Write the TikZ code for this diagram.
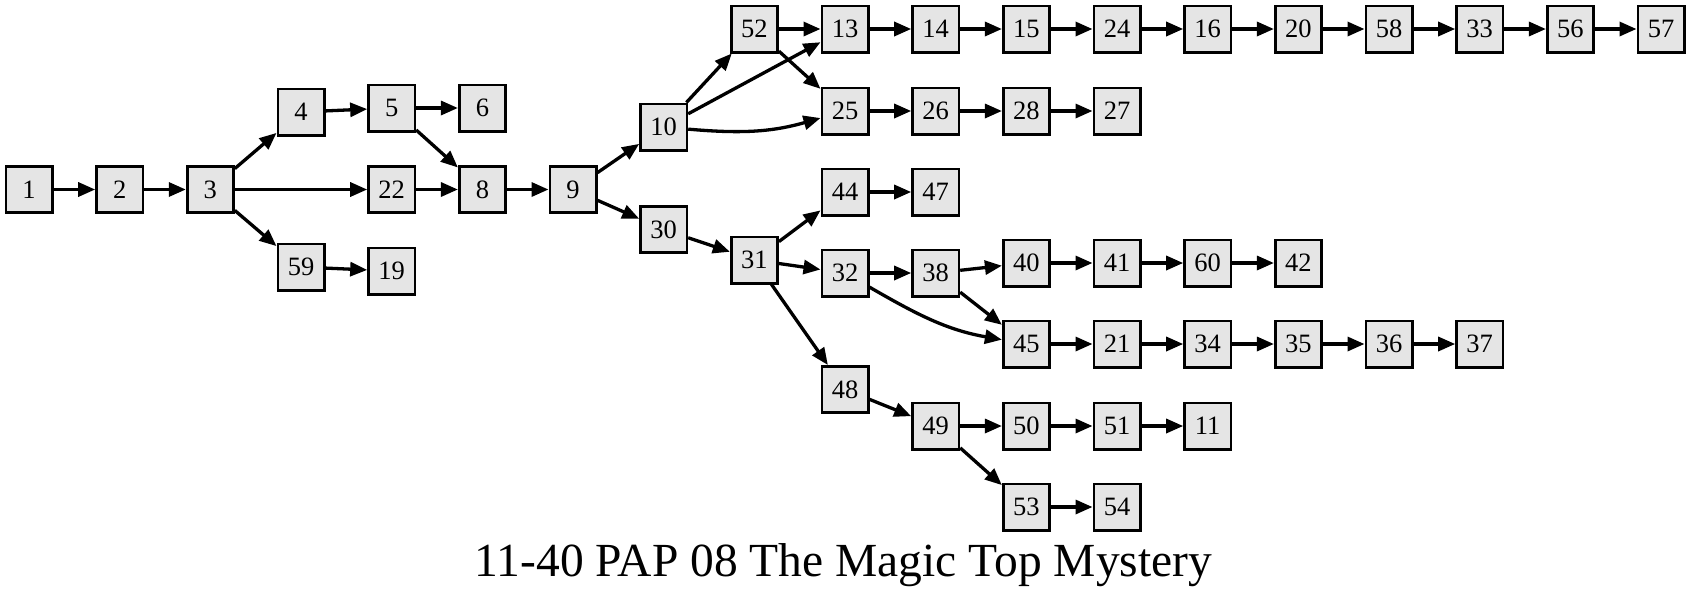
\documentclass[tikz,border=0pt]{standalone}
\usepackage{fontspec}
\setmainfont{Liberation Serif}
\usetikzlibrary{arrows.meta}
\definecolor{nodefill}{RGB}{229,229,229}
\tikzset{
  box/.style={draw=black, line width=2.7pt, fill=nodefill, rectangle, minimum size=46.3pt, inner sep=0pt,
    font=\fontsize{26.5}{30}\selectfont},
  edge/.style={line width=3.3pt, -{Triangle[length=17pt,width=14pt]}},
}
\begin{document}
\begin{tikzpicture}[x=1pt,y=-1pt]
\useasboundingbox (0,0) rectangle (1691,595);
% nodes
\node[box] (n1)  at (29,189.5) {1};
\node[box] (n2)  at (119.7,189.5) {2};
\node[box] (n3)  at (210.3,189.5) {3};
\node[box] (n4)  at (301,112) {4};
\node[box] (n5)  at (391.7,108) {5};
\node[box] (n6)  at (482.4,108) {6};
\node[box] (n22) at (391.7,189.5) {22};
\node[box] (n8)  at (482.4,189.5) {8};
\node[box] (n9)  at (573,189.5) {9};
\node[box] (n59) at (301,267) {59};
\node[box] (n19) at (391.7,271) {19};
\node[box] (n10) at (663.7,127) {10};
\node[box] (n30) at (663.7,229.5) {30};
\node[box] (n52) at (754.4,29) {52};
\node[box] (n31) at (754.4,260) {31};
\node[box] (n13) at (845,29) {13};
\node[box] (n25) at (845,111) {25};
\node[box] (n44) at (845,192) {44};
\node[box] (n32) at (845,273) {32};
\node[box] (n48) at (845,389.5) {48};
\node[box] (n14) at (935.7,29) {14};
\node[box] (n26) at (935.7,111) {26};
\node[box] (n47) at (935.7,192) {47};
\node[box] (n38) at (935.7,273) {38};
\node[box] (n49) at (935.7,426) {49};
\node[box] (n15) at (1026.4,29) {15};
\node[box] (n28) at (1026.4,111) {28};
\node[box] (n40) at (1026.4,263) {40};
\node[box] (n45) at (1026.4,344) {45};
\node[box] (n50) at (1026.4,426) {50};
\node[box] (n53) at (1026.4,507) {53};
\node[box] (n24) at (1117,29) {24};
\node[box] (n27) at (1117,111) {27};
\node[box] (n41) at (1117,263) {41};
\node[box] (n21) at (1117,344) {21};
\node[box] (n51) at (1117,426) {51};
\node[box] (n54) at (1117,507) {54};
\node[box] (n16) at (1207.7,29) {16};
\node[box] (n60) at (1207.7,263) {60};
\node[box] (n34) at (1207.7,344) {34};
\node[box] (n11) at (1207.7,426) {11};
\node[box] (n20) at (1298.4,29) {20};
\node[box] (n42) at (1298.4,263) {42};
\node[box] (n35) at (1298.4,344) {35};
\node[box] (n58) at (1389,29) {58};
\node[box] (n36) at (1389,344) {36};
\node[box] (n33) at (1479.7,29) {33};
\node[box] (n37) at (1479.7,344) {37};
\node[box] (n56) at (1570.4,29) {56};
\node[box] (n57) at (1661,29) {57};
% title
\node[anchor=base, inner sep=0pt, font=\fontsize{47.5}{52}\selectfont] (title) at (843.5,576) {11-40 PAP 08 The Magic Top Mystery};
% edges
\foreach \a/\b in {n1/n2, n2/n3, n3/n4, n3/n22, n3/n59, n4/n5, n5/n6, n5/n8, n22/n8, n8/n9, n59/n19,
  n9/n10, n9/n30, n10/n52, n10/n13, n52/n13, n52/n25, n13/n14, n14/n15, n15/n24, n24/n16, n16/n20,
  n20/n58, n58/n33, n33/n56, n56/n57, n25/n26, n26/n28, n28/n27, n30/n31, n31/n44, n31/n32, n31/n48,
  n44/n47, n32/n38, n38/n40, n38/n45, n40/n41, n41/n60, n60/n42, n45/n21, n21/n34, n34/n35, n35/n36,
  n36/n37, n48/n49, n49/n50, n49/n53, n50/n51, n51/n11, n53/n54}
  \draw[edge] (\a) -- (\b);
\draw[edge] (n10) to[out=-5,in=196] (n25);
\draw[edge] (n32) to[out=-30,in=170] (n45);
\end{tikzpicture}
\end{document}
